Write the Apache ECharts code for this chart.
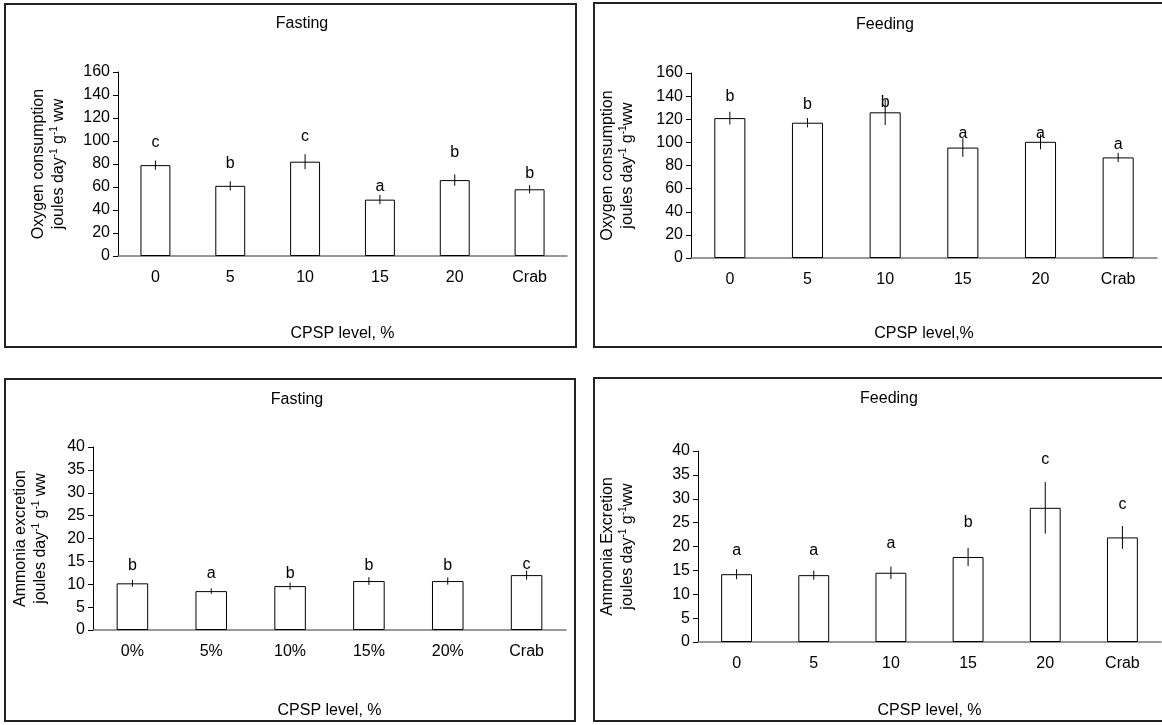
<!DOCTYPE html>
<html lang="en">
<head>
    <meta charset="UTF-8">
    <title>Oxygen consumption and ammonia excretion</title>
    <style>
        html, body { margin: 0; padding: 0; background: #fff; }
        #chart { width: 1162px; height: 725px; }
    </style>
</head>
<body>
    <div id="chart"></div>
</body>
<script src="https://cdn.jsdelivr.net/npm/echarts@6/dist/echarts.min.js"></script>
<script>
    // categories
    let levels = ['0', '5', '10', '15', '20', 'Crab'];
    let levelsPct = ['0%', '5%', '10%', '15%', '20%', 'Crab'];

    // oxygen consumption, fasting
    let oxyFastMean = [79, 61, 82, 49, 66, 58];
    let oxyFastErr = [4, 4, 6.5, 4, 5, 3.5];
    let oxyFastLetters = ['c', 'b', 'c', 'a', 'b', 'b'];
    let oxyFastLetterY = [99, 80, 104, 60, 90, 72];

    // oxygen consumption, feeding
    let oxyFeedMean = [121, 117, 126, 95.5, 100.5, 87];
    let oxyFeedErr = [5.5, 4, 11, 8, 6.5, 4];
    let oxyFeedLetters = ['b', 'b', 'b', 'a', 'a', 'a'];
    let oxyFeedLetterY = [140, 133, 134, 108, 108, 98];

    // ammonia excretion, fasting
    let ammFastMean = [10.2, 8.5, 9.6, 10.7, 10.7, 12.0];
    let ammFastErr = [0.75, 0.6, 0.75, 0.85, 0.8, 1.0];
    let ammFastLetters = ['b', 'a', 'b', 'b', 'b', 'c'];
    let ammFastLetterY = [14.1, 12.4, 12.4, 14.1, 14.1, 14.2];

    // ammonia excretion, feeding
    let ammFeedMean = [14.2, 14.0, 14.5, 17.8, 28.1, 21.9];
    let ammFeedErr = [1.05, 0.95, 1.3, 1.9, 5.4, 2.4];
    let ammFeedLetters = ['a', 'a', 'a', 'b', 'c', 'c'];
    let ammFeedLetterY = [19.1, 19.1, 20.7, 25, 38.2, 28.8];

    let font = '"Liberation Sans", Arial, sans-serif';
    let fs = 16;
    let chart = echarts.init(document.getElementById('chart'));

    let panels = [
      { cats: levels, mean: oxyFastMean, err: oxyFastErr, letters: oxyFastLetters, letterY: oxyFastLetterY,
        max: 160, interval: 20, grid: { left: 118, top: 72, width: 449, height: 184 },
        yName: 'Oxygen consumption\njoules day{s|-1} g{s|-1} ww', yGap: 49,
        xName: 'CPSP level, %', xGap: 70, title: 'Fasting', tx: 297, ty: 11 },
      { cats: levels, mean: oxyFeedMean, err: oxyFeedErr, letters: oxyFeedLetters, letterY: oxyFeedLetterY,
        max: 160, interval: 20, grid: { left: 691, top: 73, width: 466, height: 185 },
        yName: 'Oxygen consumption\njoules day{s|-1} g{s|-1}ww', yGap: 53,
        xName: 'CPSP level,%', xGap: 68, title: 'Feeding', tx: 880, ty: 12 },
      { cats: levelsPct, mean: ammFastMean, err: ammFastErr, letters: ammFastLetters, letterY: ammFastLetterY,
        max: 40, interval: 5, grid: { left: 93, top: 447, width: 473, height: 183 },
        yName: 'Ammonia excretion\njoules day{s|-1} g{s|-1} ww', yGap: 42,
        xName: 'CPSP level, %', xGap: 73, title: 'Fasting', tx: 292, ty: 387 },
      { cats: levels, mean: ammFeedMean, err: ammFeedErr, letters: ammFeedLetters, letterY: ammFeedLetterY,
        max: 40, interval: 5, grid: { left: 698, top: 451, width: 463, height: 191 },
        yName: 'Ammonia Excretion\njoules day{s|-1} g{s|-1}ww', yGap: 60,
        xName: 'CPSP level, %', xGap: 61, title: 'Feeding', tx: 884, ty: 386 }
    ];

    let option = {
      backgroundColor: '#fff',
      animation: false,
      textStyle: { fontFamily: font },
      title: [],
      grid: [],
      xAxis: [],
      yAxis: [],
      series: [],
      graphic: [
        { type: 'rect', shape: { x: 5, y: 4, width: 571, height: 343 }, style: { fill: 'none', stroke: '#222', lineWidth: 2 } },
        { type: 'rect', shape: { x: 594, y: 3, width: 600, height: 344 }, style: { fill: 'none', stroke: '#222', lineWidth: 2 } },
        { type: 'rect', shape: { x: 5, y: 379, width: 570, height: 342 }, style: { fill: 'none', stroke: '#222', lineWidth: 2 } },
        { type: 'rect', shape: { x: 594, y: 378, width: 600, height: 343 }, style: { fill: 'none', stroke: '#222', lineWidth: 2 } }
      ]
    };

    panels.forEach(function (p, i) {
      option.title.push({
        text: p.title, left: p.tx, top: p.ty, textAlign: 'center',
        textStyle: { fontFamily: font, fontSize: fs, fontWeight: 'normal', color: '#000' }
      });
      option.grid.push(p.grid);
      option.xAxis.push({
        type: 'category', gridIndex: i, data: p.cats,
        name: p.xName, nameLocation: 'middle', nameGap: p.xGap,
        nameTextStyle: { fontFamily: font, fontSize: fs, color: '#000' },
        axisLine: { lineStyle: { color: '#777', width: 1.5 } },
        axisTick: { length: 5, lineStyle: { color: '#777' } },
        axisLabel: { fontFamily: font, fontSize: fs, color: '#000', margin: 14 }
      });
      option.yAxis.push({
        type: 'value', gridIndex: i, min: 0, max: p.max, interval: p.interval,
        name: p.yName, nameLocation: 'middle', nameRotate: 90, nameGap: p.yGap,
        nameTextStyle: {
          fontFamily: font, fontSize: fs, color: '#000', lineHeight: 20, align: 'center',
          rich: { s: { fontFamily: font, fontSize: 10, color: '#000', verticalAlign: 'top', lineHeight: 12 } }
        },
        splitLine: { show: false },
        axisLine: { show: true, lineStyle: { color: '#000', width: 1 } },
        axisTick: { show: true, length: 5, lineStyle: { color: '#000' } },
        axisLabel: { fontFamily: font, fontSize: fs, color: '#000', margin: 8 }
      });
      option.series.push({
        type: 'bar', xAxisIndex: i, yAxisIndex: i, data: p.mean, barWidth: '40%', z: 2,
        itemStyle: { color: '#fff', borderColor: '#000', borderWidth: 1 }
      });
      option.series.push({
        type: 'custom', xAxisIndex: i, yAxisIndex: i, z: 10,
        data: p.mean.map(function (m, k) { return [k, m - p.err[k], m + p.err[k]]; }),
        renderItem: function (params, api) {
          let lo = api.coord([api.value(0), api.value(1)]);
          let hi = api.coord([api.value(0), api.value(2)]);
          return {
            type: 'line',
            shape: { x1: lo[0], y1: lo[1], x2: hi[0], y2: hi[1] },
            style: { stroke: '#000', lineWidth: 1 }
          };
        }
      });
      option.series.push({
        type: 'custom', xAxisIndex: i, yAxisIndex: i, z: 10,
        data: p.letterY.map(function (y, k) { return [k, y]; }),
        renderItem: function (params, api) {
          let pt = api.coord([api.value(0), api.value(1)]);
          return {
            type: 'text',
            x: pt[0], y: pt[1],
            style: {
              text: p.letters[params.dataIndex], fill: '#000',
              font: fs + 'px ' + font, textAlign: 'center', textVerticalAlign: 'middle'
            }
          };
        }
      });
    });

    chart.setOption(option);
</script>
</html>
